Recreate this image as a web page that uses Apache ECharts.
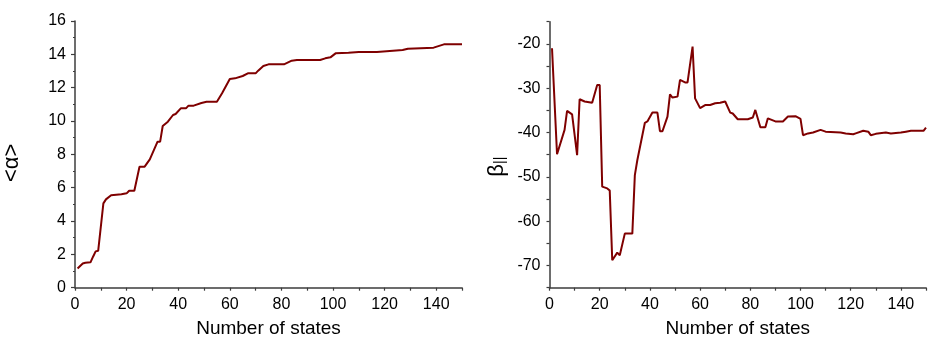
<!DOCTYPE html>
<html>
<head>
<meta charset="utf-8">
<script src="https://cdn.jsdelivr.net/npm/echarts@6/dist/echarts.min.js"></script>
<style>
html,body{margin:0;padding:0;background:#fff;}
#c{width:945px;height:350px;}
</style>
</head>
<body>
<div id="c"></div>
<script>
// Left panel: <alpha> vs number of states
const alphaStates = [1,3,4,6,7,8,9,11,12,14,18,20,21,23,25,27,29,32,33,34,36,38,39,41,43,44,46,49,51,55,57,60,62,65,67,70,71,73,75,81,84,86,95,97,99,101,106,110,117,122,127,129,139,143,150];
const alphaValues = [1.15,1.45,1.5,1.52,1.86,2.18,2.22,5.06,5.3,5.55,5.6,5.66,5.82,5.82,7.26,7.26,7.7,8.76,8.76,9.7,9.96,10.36,10.42,10.76,10.76,10.92,10.92,11.08,11.16,11.16,11.66,12.52,12.56,12.7,12.86,12.86,13.02,13.3,13.4,13.4,13.62,13.66,13.66,13.76,13.82,14.06,14.1,14.14,14.14,14.2,14.26,14.34,14.4,14.6,14.6];

// Right panel: beta_parallel vs number of states
const betaStates = [1,3,6,7,9,11,12,14,17,19,20,21,23,24,25,27,28,30,33,34,35,38,39,41,43,44,45,47,48,49,51,52,54,55,57,58,60,62,64,66,68,70,72,73,75,79,81,82,84,86,87,90,93,95,98,100,101,103,105,108,110,116,118,121,122,125,127,128,130,134,136,140,142,144,149,150];
const betaValues = [-21,-44.9,-39.4,-35.1,-35.9,-45.1,-32.5,-33.0,-33.3,-29.3,-29.3,-52.2,-52.6,-53.1,-68.8,-67.1,-67.7,-62.8,-62.8,-49.6,-46.2,-37.8,-37.5,-35.5,-35.5,-39.7,-39.7,-36.4,-31.4,-32.1,-31.9,-28.1,-28.7,-28.7,-20.6,-32.3,-34.5,-33.8,-33.8,-33.4,-33.3,-33.0,-35.5,-35.7,-37.0,-37.0,-36.6,-34.9,-38.8,-38.8,-36.8,-37.5,-37.5,-36.4,-36.3,-36.9,-40.6,-40.2,-40.0,-39.4,-39.8,-40.0,-40.2,-40.4,-40.2,-39.6,-39.8,-40.6,-40.3,-40.0,-40.2,-40.0,-39.8,-39.6,-39.6,-38.9];

const xTicks = [0,20,40,60,80,100,120,140];

const FONT = 'Liberation Sans, Arial, sans-serif';
const AXIS_COLOR = '#3c3c3c';
const LINE_COLOR = '#7f0000';

function xAxisCfg(gridIndex){
  return {
    type:'value', gridIndex, min:0, max:150, interval:10,
    name:'Number of states', nameLocation:'middle', nameGap:32,
    nameTextStyle:{fontFamily:FONT,fontSize:19,color:'#000'},
    axisLine:{show:true,lineStyle:{color:AXIS_COLOR,width:1.5}},
    axisTick:{show:true,inside:false,length:3,lineStyle:{color:AXIS_COLOR,width:1.2}},
    axisLabel:{fontFamily:FONT,fontSize:16,color:'#000',margin:9,
      formatter:v=> xTicks.indexOf(v)>=0 ? String(v) : ''},
    splitLine:{show:false}
  };
}

const chart = echarts.init(document.getElementById('c'), null, {renderer:'canvas'});
chart.setOption({
  animation:false,
  backgroundColor:'#fff',
  grid:[
    {left:72, right:483, top:21, bottom:62.3, containLabel:false},
    {left:549.5, right:19, top:21.7, bottom:62.3, containLabel:false}
  ],
  xAxis:[xAxisCfg(0), xAxisCfg(1)],
  yAxis:[
    {
      type:'value', gridIndex:0, min:0, max:16, interval:2,
      name:'<α>', nameLocation:'middle', nameRotate:90, nameGap:52,
      nameTextStyle:{fontFamily:FONT,fontSize:22,color:'#000',padding:[0,17,0,0]},
      axisLine:{show:true,lineStyle:{color:AXIS_COLOR,width:1.5}},
      axisTick:{show:true,inside:false,length:4,lineStyle:{color:AXIS_COLOR,width:1.2}},
      minorTick:{show:true,splitNumber:2,length:2,lineStyle:{color:AXIS_COLOR,width:1.2}},
      axisLabel:{fontFamily:FONT,fontSize:16,color:'#000',margin:9},
      splitLine:{show:false}
    },
    {
      type:'value', gridIndex:1, min:-75, max:-15, interval:5,
      name:'{b|β}{s|||}', nameLocation:'middle', nameRotate:90, nameGap:42,
      nameTextStyle:{fontFamily:FONT,color:'#000',padding:[0,24,0,0],
        rich:{
          b:{fontFamily:FONT,fontSize:22,lineHeight:22,verticalAlign:'top',color:'#000'},
          s:{fontFamily:FONT,fontSize:14,lineHeight:14,verticalAlign:'bottom',padding:[17,0,0,0],color:'#000'}
        }},
      axisLine:{show:true,lineStyle:{color:AXIS_COLOR,width:1.5}},
      axisTick:{show:true,inside:false,length:3,lineStyle:{color:AXIS_COLOR,width:1.2}},
      axisLabel:{fontFamily:FONT,fontSize:16,color:'#000',margin:9,
        formatter:v=> (v%10===0) ? String(v) : ''},
      splitLine:{show:false}
    }
  ],
  series:[
    {type:'line', xAxisIndex:0, yAxisIndex:0, showSymbol:false, symbol:'none',
     lineStyle:{color:LINE_COLOR,width:2}, data:alphaStates.map((x,i)=>[x,alphaValues[i]])},
    {type:'line', xAxisIndex:1, yAxisIndex:1, showSymbol:false, symbol:'none',
     lineStyle:{color:LINE_COLOR,width:2}, data:betaStates.map((x,i)=>[x,betaValues[i]])}
  ]
});
</script>
</body>
</html>
